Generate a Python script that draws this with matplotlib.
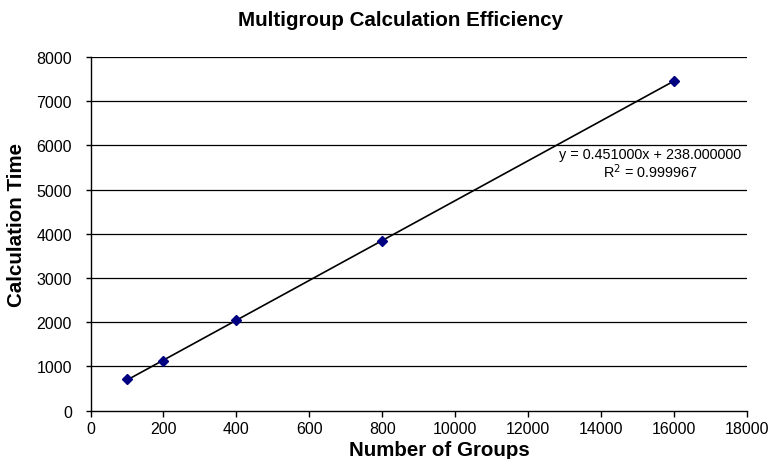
import matplotlib
matplotlib.use("Agg")
import matplotlib.pyplot as plt
import numpy as np

plt.rcParams['font.family'] = ['Liberation Sans', 'DejaVu Sans']

# Measured calculation times per number of groups
groups = [1000, 2000, 4000, 8000, 16000]
calc_time = [705, 1120, 2040, 3835, 7450]

# Linear trendline coefficients
slope = 0.451
intercept = 238.0
r_squared = 0.999967

x_ticks = [0, 2000, 4000, 6000, 8000, 10000, 12000, 14000, 16000, 18000]
x_tick_labels = ['0', '200', '400', '600', '800', '10000', '12000', '14000', '16000', '18000']
y_ticks = [0, 1000, 2000, 3000, 4000, 5000, 6000, 7000, 8000]

fig = plt.figure(figsize=(7.83, 4.60), dpi=100)
ax = fig.add_axes([0.1156, 0.1054, 0.838, 0.7685])

for yv in y_ticks[1:]:
    ax.axhline(yv, color='black', lw=0.9, zorder=1)

tx = np.array([groups[0], groups[-1]])
ax.plot(tx, slope * tx + intercept, color='black', lw=1.2, zorder=2)
ax.plot(groups, calc_time, linestyle='none', marker='D', markersize=5.5,
        color='#000080', markeredgecolor='#000080', zorder=3)

ax.set_xlim(0, 18000)
ax.set_ylim(0, 8000)
ax.set_xticks(x_ticks)
ax.set_xticklabels(x_tick_labels)
ax.set_yticks(y_ticks)
ax.tick_params(axis='both', labelsize=11.5, direction='out', width=1, color='black')
ax.tick_params(axis='x', length=4.5, pad=3)
ax.tick_params(axis='y', length=3.5, pad=10)

for side in ['top', 'right']:
    ax.spines[side].set_visible(False)
for side in ['left', 'bottom']:
    ax.spines[side].set_linewidth(1)
    ax.spines[side].set_color('black')

ax.set_xlabel('Number of Groups', fontsize=14.8, fontweight='bold', va='center')
ax.xaxis.set_label_coords(0.532, -0.109)
ax.set_ylabel('Calculation Time', fontsize=14.8, fontweight='bold', va='center')
ax.yaxis.set_label_coords(-0.1125, 0.5276)

fig.text(0.511, 0.9565, 'Multigroup Calculation Efficiency', ha='center', va='center',
         fontsize=14.8, fontweight='bold')

ax.text(15359, 5804, f'y = {slope:.6f}x + {intercept:.6f}', ha='center', va='center', fontsize=10.4)
ax.text(15359, 5426, f'R$^2$ = {r_squared:.6f}', ha='center', va='center', fontsize=10.4)

fig.savefig('out.png', dpi=100)
